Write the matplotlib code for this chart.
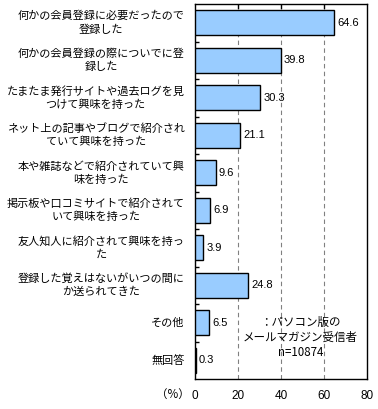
import matplotlib
matplotlib.use("Agg")
import matplotlib.pyplot as plt
import numpy as np

plt.rcParams['font.family'] = ['Noto Sans CJK JP', 'DejaVu Sans']

labels = [
    "何かの会員登録に必要だったので\n登録した",
    "何かの会員登録の際についでに登\n録した",
    "たまたま発行サイトや過去ログを見\nつけて興味を持った",
    "ネット上の記事やブログで紹介され\nていて興味を持った",
    "本や雑誌などで紹介されていて興\n味を持った",
    "掲示板や口コミサイトで紹介されて\nいて興味を持った",
    "友人知人に紹介されて興味を持っ\nた",
    "登録した覚えはないがいつの間に\nか送られてきた",
    "その他",
    "無回答",
]
values = [64.6, 39.8, 30.3, 21.1, 9.6, 6.9, 3.9, 24.8, 6.5, 0.3]
xticks = [0, 20, 40, 60, 80]
note = "：パソコン版の\nメールマガジン受信者\nn=10874"

fig = plt.figure(figsize=(3.78, 4.09), dpi=100)
ax = fig.add_axes([195/378, 1-379/409, 172/378, 375/409])

y = np.arange(len(values))
ax.barh(y, values, height=0.67, color='#99CCFF', edgecolor='black', linewidth=1.0, zorder=3)
for yi, v in zip(y, values):
    ax.text(v + 1.5, yi, f"{v:.1f}", va='center', ha='left', fontsize=8,
            family=['Liberation Sans', 'DejaVu Sans'], zorder=4)

ax.set_xlim(0, 80)
ax.set_ylim(len(values) - 0.5, -0.5)
ax.set_xticks(xticks)
ax.set_xticklabels([str(t) for t in xticks], fontsize=8.5, family=['Liberation Sans', 'DejaVu Sans'])
ax.tick_params(axis='x', length=0, pad=8)
ax.set_yticks(y)
ax.set_yticklabels([])
ax.tick_params(axis='y', length=0)
ax.set_yticks(np.arange(len(values) - 1) + 0.5, minor=True)
ax.tick_params(axis='y', which='minor', direction='in', length=3, width=1)

for gx in xticks[1:-1]:
    ax.axvline(gx, color='#808080', linestyle=(0, (4, 3)), linewidth=0.8, zorder=1)
    ax.plot([gx, gx], [-0.5, -0.5 + 0.1], color='black', linewidth=1, zorder=2)

for yi, lab in zip(y, labels):
    ax.text(-0.06, yi, lab, transform=ax.get_yaxis_transform(), ha='right', va='center',
            multialignment='center', fontsize=8.0, linespacing=1.35)

ax.text(-0.03, -0.04, "（%）", transform=ax.transAxes, ha='right', va='center', fontsize=8.3)
ax.text(49, 8.4, note, ha='center', va='center', fontsize=8.3, linespacing=1.2)

for s in ax.spines.values():
    s.set_linewidth(1.0)

fig.savefig("out.png", dpi=100)
